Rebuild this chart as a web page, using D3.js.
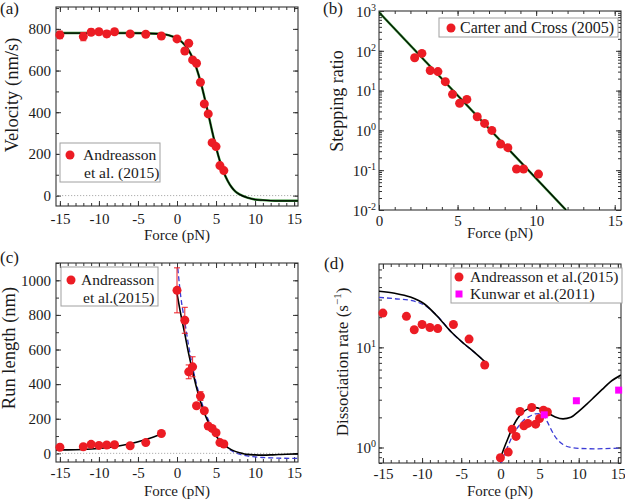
<!DOCTYPE html>
<html><head><meta charset="utf-8">
<script src="https://cdn.jsdelivr.net/npm/d3@7"></script>
<style>
body{margin:0;background:#fff;}
svg, svg text{font-family:"Liberation Serif","Times New Roman",serif !important;}
svg text{fill:#1a1a1a;}
</style></head><body>
<svg id="chart" width="625" height="501"></svg>
<script>
// ---------- DATA ----------
// (a) velocity vs force
const velForce = [-15,-12,-11,-10,-9,-8,-6,-4,-2,0,1,1.5,2,2.5,3,3.5,4,4.5,5,5.5,6];
const velValue = [771,763,784,786,776,786,776,774,766,752,694,731,651,635,544,440,392,254,235,144,120];
const velErr   = [18,20,15,14,15,12,12,10,10,0,0,0,0,0,0,0,0,0,0,0,0];
const velFitForce = [-15.5,-10,-6,-4,-2,-1,0,1,1.5,2,2.5,3,3.5,4,4.5,5,5.5,6,6.5,7,7.5,8,9,10,11,12,13,15.5];
const velFitValue = [780,780,780,779,775,769,754,723,697,660,611,549,474,393,309,232,165,111,70,40,19,6,-10,-19,-22,-24,-25,-25];
// (b) stepping ratio
const ratioForce = [2.27,2.73,3.26,3.75,4.22,4.68,5.13,5.59,6.25,6.72,7.18,7.74,8.2,8.75,9.2,10.15];
const ratioValue = [67,86,32,30,16.8,8.05,4.8,6.0,2.2,1.5,1.0,0.455,0.368,0.107,0.107,0.080];
const ratioFitForce = [0,11.9];
const ratioFitValue = [930,0.01];
// (c) run length
const runForce = [-15,-12,-11,-10,-9,-8,-6,-4,-2,0,1,1.5,2,2.5,3,3.5,4,4.5,5,5.5,6];
const runValue = [35,38,52,46,48,50,44,62,115,942,769,471,500,275,331,246,158,144,119,62,54];
const runErr   = [0,0,0,0,0,0,0,0,0,130,75,40,58,0,25,15,0,0,0,0,0];
const runFitLeftForce = [-15.5,-14,-12,-10,-8,-6,-4,-3,-2];
const runFitLeftValue = [20,20,22,28,38,55,80,95,112];
const runFitRightForce = [0,0.5,1,1.5,2,2.5,3,3.5,4,5,6,7,8,8.5,9,10,11,12,13,14,15.5];
const runFitRightValue = [925,800,690,575,475,380,300,235,180,100,50,20,3,-2,-6,-9,-10,-9,-7,-5,-3];
const runAltForce = [0.1,0.5,1,1.5,2,2.5,3,3.5,4,5,6,7,8,9,10,11,12,13,15.5];
const runAltValue = [1070,900,760,620,500,400,320,250,195,110,55,15,-5,-15,-20,-24,-26,-28,-29];
// (d) dissociation rate
const dissForce = [-15,-12,-11,-10,-9,-8,-6,-4,-2,0,1,1.5,2,2.5,3,3.5,4,4.5,5,5.5,6];
const dissValue = [22,20.4,15.0,16.9,15.8,15.4,16.9,12.1,6.66,0.79,0.90,1.52,1.29,2.29,1.65,1.74,2.51,1.71,1.95,2.36,2.26];
const kunForce = [5.6,9.7,15.1];
const kunValue = [2.12,2.93,3.74];
const dissFitLeftForce = [-15.5,-13.5,-11.5,-9.7,-8,-6.3,-4.6,-3.3,-2];
const dissFitLeftValue = [36.3,34.7,31.8,27.1,20.2,14.3,10.8,8.9,7.2];
const dissAltLeftValue = [31.6,30.6,29.5,26.3,20.4,14.3,10.8,8.9,7.2];
const dissFitRightForce = [0,0.5,1,1.5,2,2.5,3,3.5,4,4.5,5,5.5,6,7,8,9,10,11,12,13,14,15.4];
const dissFitRightValue = [0.78,1.0,1.25,1.55,1.85,2.1,2.3,2.42,2.5,2.5,2.45,2.35,2.22,2.02,1.93,2.0,2.3,2.7,3.2,3.8,4.5,5.3];
const dissAltRightForce = [0,0.5,1,1.5,2,2.5,3,3.5,4,4.5,5,5.5,6,6.5,7,7.5,8,9,10,12,15.4];
const dissAltRightValue = [0.66,0.85,1.05,1.28,1.5,1.7,1.88,2.0,2.1,2.17,2.18,2.1,1.8,1.5,1.28,1.15,1.07,1.0,0.98,0.97,0.99];

const xTicksWide = [-15,-10,-5,0,5,10,15];

// ---------- DRAW ----------
const FONT = "Liberation Serif, Times New Roman, serif";
const RED = "#ec1c24", MAG = "#ff00ff", BLUE = "#3b3bd6", GREEN = "#2e8b2e";
const svg = d3.select("#chart");
let clipId = 0;

function range(a,b,s){const r=[];for(let v=a;v<=b+1e-9;v+=s)r.push(+v.toFixed(6));return r;}
function logMinors(d){const r=[];for(let e=-3;e<=3;e++)for(let k=1;k<=9;k++){const v=k*Math.pow(10,e);if(v>=d[0]*0.999&&v<=d[1]*1.001)r.push(v);}return r;}

function panel(o){
  const g = svg.append("g");
  const x = d3.scaleLinear().domain(o.xd).range([o.l,o.r]);
  const y = (o.log?d3.scaleLog():d3.scaleLinear()).domain(o.yd).range([o.b,o.t]);
  const id = "clip"+(clipId++);
  g.append("clipPath").attr("id",id).append("rect").attr("x",o.l).attr("y",o.t).attr("width",o.r-o.l).attr("height",o.b-o.t);
  const tickStyle = s => { s.attr("font-family",FONT); s.select(".domain").remove(); s.selectAll("line").attr("stroke","#333"); };
  const xMinor = o.xMinor.filter(v=>v>=o.xd[0]&&v<=o.xd[1]);
  g.append("g").attr("transform",`translate(0,${o.b})`).call(d3.axisBottom(x).tickValues(xMinor).tickSize(-3).tickFormat("")).call(tickStyle);
  g.append("g").attr("transform",`translate(0,${o.t})`).call(d3.axisTop(x).tickValues(xMinor).tickSize(-3).tickFormat("")).call(tickStyle);
  g.append("g").attr("transform",`translate(0,${o.t})`).call(d3.axisTop(x).tickValues(o.xMajor).tickSize(-5).tickFormat("")).call(tickStyle);
  const xb = g.append("g").attr("transform",`translate(0,${o.b})`)
    .call(d3.axisBottom(x).tickValues(o.xMajor).tickSize(-5).tickPadding(o.xpad).tickFormat(d=>String(d))).call(tickStyle);
  xb.selectAll("text").attr("font-size",15).attr("fill","#1a1a1a");
  const yMinor = o.log ? logMinors(o.yd) : o.yMinor;
  g.append("g").attr("transform",`translate(${o.l},0)`).call(d3.axisLeft(y).tickValues(yMinor).tickSize(-3).tickFormat("")).call(tickStyle);
  g.append("g").attr("transform",`translate(${o.r},0)`).call(d3.axisRight(y).tickValues(yMinor).tickSize(-3).tickFormat("")).call(tickStyle);
  g.append("g").attr("transform",`translate(${o.r},0)`).call(d3.axisRight(y).tickValues(o.yMajor).tickSize(-5).tickFormat("")).call(tickStyle);
  const yl = g.append("g").attr("transform",`translate(${o.l},0)`)
    .call(d3.axisLeft(y).tickValues(o.yMajor).tickSize(-5).tickPadding(o.log?3:5).tickFormat(o.log?"":(d=>String(d)))).call(tickStyle);
  yl.selectAll("text").attr("font-size",15).attr("fill","#1a1a1a");
  if(o.log){
    yl.selectAll(".tick").each(function(d){
      const t = d3.select(this).append("text").attr("x",-3).attr("dy","0.35em").attr("text-anchor","end").attr("font-size",15).attr("fill","#1a1a1a");
      t.append("tspan").text("10");
      t.append("tspan").attr("dy",-6).attr("font-size",10).text(String(Math.round(Math.log10(d))));
    });
  }
  g.append("rect").attr("x",o.l).attr("y",o.t).attr("width",o.r-o.l).attr("height",o.b-o.t).attr("fill","none").attr("stroke","#333").attr("stroke-width",1.1);
  if(o.zero){
    g.append("line").attr("x1",o.l).attr("x2",o.r).attr("y1",y(0)).attr("y2",y(0)).attr("stroke","#9a9a9a").attr("stroke-width",0.8).attr("stroke-dasharray","1.2,1.8");
  }
  g.append("text").attr("x",(o.l+o.r)/2).attr("y",o.xty).attr("text-anchor","middle").attr("font-size",15).text("Force (pN)");
  const yt = g.append("text").attr("transform",`translate(${o.ytx},${o.ytc}) rotate(-90)`).attr("text-anchor","middle").attr("font-size",o.yts);
  o.ytitle(yt);
  g.append("text").attr("x",o.labx).attr("y",o.laby).attr("font-size",17).text(o.label);
  return {g,x,y,clip:`url(#${id})`};
}

function line(p, xs, ys, stroke, width, dash){
  const pts = xs.map((v,i)=>[v,ys[i]]);
  p.g.append("path").datum(pts).attr("clip-path",p.clip)
    .attr("d",d3.line().x(d=>p.x(d[0])).y(d=>p.y(d[1])).curve(d3.curveMonotoneX))
    .attr("fill","none").attr("stroke",stroke).attr("stroke-width",width).attr("stroke-dasharray",dash||null);
}
function dots(p, xs, ys, errs){
  const gg = p.g.append("g");
  xs.forEach((v,i)=>{
    if(errs && errs[i]>0){
      const x0=p.x(v), y1=p.y(ys[i]+errs[i]), y2=p.y(ys[i]-errs[i]);
      gg.append("line").attr("x1",x0).attr("x2",x0).attr("y1",y1).attr("y2",y2).attr("stroke",RED).attr("stroke-width",1);
      [y1,y2].forEach(yy=>gg.append("line").attr("x1",x0-3).attr("x2",x0+3).attr("y1",yy).attr("y2",yy).attr("stroke",RED).attr("stroke-width",1));
    }
  });
  xs.forEach((v,i)=>gg.append("circle").attr("cx",p.x(v)).attr("cy",p.y(ys[i])).attr("r",4.5).attr("fill",RED));
}
function squares(p, xs, ys){
  xs.forEach((v,i)=>p.g.append("rect").attr("x",p.x(v)-3.5).attr("y",p.y(ys[i])-3.5).attr("width",7).attr("height",7).attr("fill",MAG));
}
function legendBox(g,x,y,w,h){
  g.append("rect").attr("x",x).attr("y",y).attr("width",w).attr("height",h).attr("fill","#fff").attr("stroke","#a0a0a0").attr("stroke-width",1);
}

// Panel (a)
const pa = panel({l:56,r:298,t:7,b:206,xd:[-15.5,15.5],yd:[-50,905],xMajor:xTicksWide,xMinor:range(-15,15,1),
  yMajor:[0,200,400,600,800],yMinor:range(0,900,100),zero:true,ytx:18,ytc:95,yts:18.5,xpad:7,xty:240,labx:0,laby:14,label:"(a)",
  ytitle:t=>t.text("Velocity (nm/s)")});
line(pa, velFitForce, velFitValue, GREEN, 2.4);
line(pa, velFitForce, velFitValue, "#000", 1.3);
dots(pa, velForce, velValue, velErr);
legendBox(pa.g,60,143,100,39);
pa.g.append("circle").attr("cx",70).attr("cy",155).attr("r",4.5).attr("fill",RED);
pa.g.append("text").attr("x",83).attr("y",160).attr("font-size",15.5).text("Andreasson");
pa.g.append("text").attr("x",84).attr("y",178).attr("font-size",15.5).text("et al. (2015)");

// Panel (b)
const pb = panel({l:379,r:621,t:11,b:210,xd:[0,15.4],yd:[0.01,1000],log:true,xMajor:[0,5,10,15],xMinor:range(0,15,1),
  yMajor:[0.01,0.1,1,10,100,1000],ytx:343,ytc:101,yts:18,xpad:5,xty:238,labx:323,laby:14,label:"(b)",
  ytitle:t=>t.text("Stepping ratio")});
line(pb, ratioFitForce, ratioFitValue, GREEN, 2.4);
line(pb, ratioFitForce, ratioFitValue, "#000", 1.1);
dots(pb, ratioForce, ratioValue);
legendBox(pb.g,439,18,179,19);
pb.g.append("circle").attr("cx",451).attr("cy",28).attr("r",4.5).attr("fill",RED);
pb.g.append("text").attr("x",460).attr("y",33).attr("font-size",16).text("Carter and Cross (2005)");

// Panel (c)
const pc = panel({l:56,r:298,t:263,b:462,xd:[-15.5,15.5],yd:[-50,1100],xMajor:xTicksWide,xMinor:range(-15,15,1),
  yMajor:[0,200,400,600,800,1000],yMinor:range(0,1100,100),zero:true,ytx:15,ytc:348,yts:18.5,xpad:5,xty:496,labx:0,laby:263,label:"(c)",
  ytitle:t=>t.text("Run length (nm)")});
line(pc, runAltForce, runAltValue, BLUE, 1.3, "5,3");
line(pc, runFitLeftForce, runFitLeftValue, "#000", 1.6);
line(pc, runFitRightForce, runFitRightValue, "#000", 1.6);
dots(pc, runForce, runValue, runErr);
legendBox(pc.g,61,267,97,39);
pc.g.append("circle").attr("cx",71).attr("cy",280).attr("r",4.5).attr("fill",RED);
pc.g.append("text").attr("x",81).attr("y",285).attr("font-size",15.5).text("Andreasson");
pc.g.append("text").attr("x",83).attr("y",303).attr("font-size",15.5).text("et al.(2015)");

// Panel (d)
const pd = panel({l:379,r:621,t:264,b:463,xd:[-15.5,15.4],yd:[0.7,68],log:true,xMajor:xTicksWide,xMinor:range(-15,15,1),
  yMajor:[1,10],ytx:348,ytc:362,yts:17,xpad:5,xty:496,labx:324,laby:269,label:"(d)",
  ytitle:t=>{t.append("tspan").text("Dissociation rate (s");t.append("tspan").attr("dy",-7).attr("font-size",11).text("\u22121");t.append("tspan").attr("dy",7).text(")");}});
line(pd, dissFitLeftForce, dissAltLeftValue, BLUE, 1.3, "5,3");
line(pd, dissAltRightForce, dissAltRightValue, BLUE, 1.3, "5,3");
line(pd, dissFitLeftForce, dissFitLeftValue, "#000", 1.6);
line(pd, dissFitRightForce, dissFitRightValue, "#000", 1.6);
dots(pd, dissForce, dissValue);
squares(pd, kunForce, kunValue);
legendBox(pd.g,451,268,171,35);
pd.g.append("circle").attr("cx",459).attr("cy",277).attr("r",4.5).attr("fill",RED);
pd.g.append("text").attr("x",470).attr("y",282).attr("font-size",15.5).text("Andreasson et al.(2015)");
pd.g.append("rect").attr("x",455.5).attr("y",290.5).attr("width",7).attr("height",7).attr("fill",MAG);
pd.g.append("text").attr("x",470).attr("y",299).attr("font-size",15.5).text("Kunwar et al.(2011)");
</script>
</body></html>
